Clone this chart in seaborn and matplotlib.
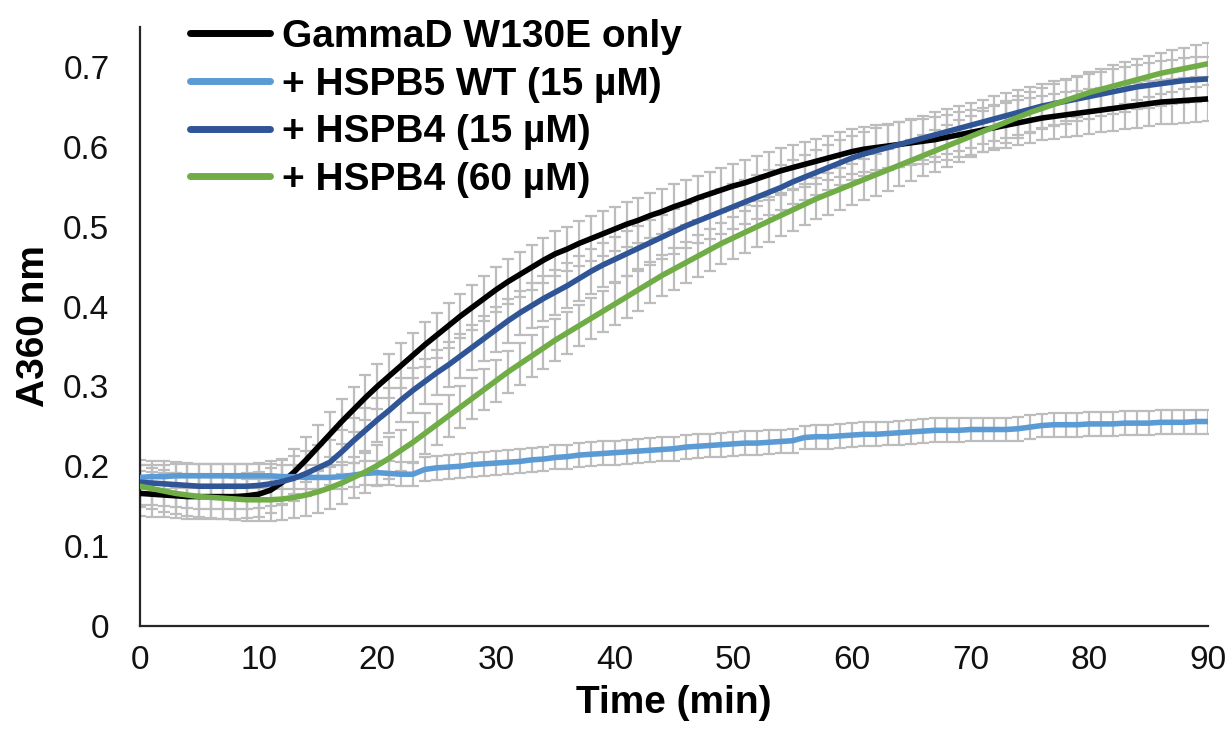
import numpy as np
import pandas as pd
import matplotlib
matplotlib.use("Agg")
import matplotlib.pyplot as plt
import seaborn as sns

time_min = list(range(0, 91))

gammad_only = [
    0.166, 0.165, 0.164, 0.163, 0.162, 0.162, 0.162, 0.162, 0.162, 0.163,
    0.165, 0.170, 0.180, 0.193, 0.208, 0.224, 0.240, 0.256, 0.271, 0.286,
    0.300, 0.313, 0.326, 0.339, 0.352, 0.364, 0.376, 0.388, 0.399, 0.410,
    0.421, 0.431, 0.440, 0.449, 0.458, 0.466, 0.472, 0.479, 0.485, 0.491,
    0.497, 0.503, 0.508, 0.514, 0.519, 0.525, 0.530, 0.536, 0.541, 0.546,
    0.551, 0.555, 0.560, 0.565, 0.570, 0.574, 0.578, 0.582, 0.586, 0.590,
    0.594, 0.597, 0.599, 0.601, 0.603, 0.605, 0.607, 0.609, 0.612, 0.615,
    0.618, 0.621, 0.624, 0.627, 0.630, 0.633, 0.636, 0.638, 0.640, 0.642,
    0.644, 0.646, 0.648, 0.650, 0.652, 0.654, 0.656, 0.657, 0.658, 0.659,
    0.660,
]

hspb5_wt_15 = [
    0.186, 0.187, 0.187, 0.188, 0.188, 0.188, 0.188, 0.188, 0.188, 0.188,
    0.188, 0.188, 0.187, 0.187, 0.186, 0.186, 0.186, 0.187, 0.189, 0.191,
    0.192, 0.191, 0.190, 0.190, 0.196, 0.198, 0.199, 0.200, 0.202, 0.203,
    0.204, 0.205, 0.206, 0.208, 0.209, 0.211, 0.212, 0.214, 0.215, 0.216,
    0.217, 0.218, 0.219, 0.220, 0.221, 0.222, 0.224, 0.225, 0.226, 0.227,
    0.228, 0.229, 0.229, 0.230, 0.231, 0.232, 0.236, 0.237, 0.237, 0.238,
    0.239, 0.240, 0.240, 0.241, 0.242, 0.243, 0.244, 0.245, 0.245, 0.245,
    0.246, 0.246, 0.246, 0.246, 0.247, 0.249, 0.251, 0.252, 0.252, 0.252,
    0.253, 0.253, 0.253, 0.254, 0.254, 0.254, 0.255, 0.255, 0.255, 0.256,
    0.256,
]

hspb4_15 = [
    0.180, 0.179, 0.178, 0.177, 0.176, 0.175, 0.175, 0.175, 0.175, 0.175,
    0.176, 0.178, 0.181, 0.185, 0.191, 0.198, 0.205, 0.218, 0.232, 0.245,
    0.258, 0.270, 0.283, 0.295, 0.306, 0.317, 0.327, 0.338, 0.349, 0.360,
    0.371, 0.382, 0.392, 0.401, 0.410, 0.418, 0.426, 0.435, 0.444, 0.452,
    0.459, 0.466, 0.473, 0.480, 0.487, 0.494, 0.501, 0.507, 0.513, 0.519,
    0.525, 0.531, 0.537, 0.543, 0.549, 0.556, 0.562, 0.568, 0.574, 0.580,
    0.586, 0.591, 0.595, 0.599, 0.603, 0.607, 0.611, 0.615, 0.619, 0.623,
    0.627, 0.631, 0.635, 0.639, 0.643, 0.647, 0.651, 0.654, 0.657, 0.660,
    0.663, 0.666, 0.669, 0.672, 0.675, 0.677, 0.679, 0.681, 0.683, 0.684,
    0.685,
]

hspb4_60 = [
    0.175, 0.172, 0.169, 0.166, 0.164, 0.162, 0.161, 0.160, 0.159, 0.158,
    0.158, 0.158, 0.159, 0.161, 0.164, 0.168, 0.173, 0.179, 0.186, 0.193,
    0.201, 0.210, 0.220, 0.230, 0.241, 0.252, 0.263, 0.274, 0.285, 0.296,
    0.307, 0.318, 0.328, 0.338, 0.348, 0.358, 0.367, 0.376, 0.385, 0.394,
    0.403, 0.412, 0.421, 0.430, 0.439, 0.447, 0.455, 0.463, 0.471, 0.479,
    0.486, 0.493, 0.500, 0.507, 0.514, 0.521, 0.528, 0.535, 0.541, 0.547,
    0.553, 0.559, 0.565, 0.571, 0.577, 0.583, 0.589, 0.595, 0.601, 0.607,
    0.613, 0.619, 0.625, 0.631, 0.637, 0.643, 0.648, 0.653, 0.658, 0.663,
    0.668, 0.672, 0.676, 0.680, 0.684, 0.688, 0.692, 0.695, 0.698, 0.701,
    0.704,
]

series_labels = ["GammaD W130E only", "+ HSPB5 WT (15 \u00b5M)",
                 "+ HSPB4 (15 \u00b5M)", "+ HSPB4 (60 \u00b5M)"]
series_errors = [0.028, 0.015, 0.028, 0.026]
series_colors = ["#000000", "#5B9BD5", "#2F5597", "#70AD47"]

x_ticks = [0, 10, 20, 30, 40, 50, 60, 70, 80, 90]
y_ticks = [0, 0.1, 0.2, 0.3, 0.4, 0.5, 0.6, 0.7]
y_tick_labels = ["0", "0.1", "0.2", "0.3", "0.4", "0.5", "0.6", "0.7"]

all_values = [gammad_only, hspb5_wt_15, hspb4_15, hspb4_60]
frames = []
for lab, vals in zip(series_labels, all_values):
    frames.append(pd.DataFrame({"Time": time_min, "A360": vals, "Sample": lab}))
df = pd.concat(frames, ignore_index=True)

sns.set_theme(style="white")
plt.rcParams["font.family"] = ["Liberation Sans", "DejaVu Sans"]
plt.rcParams["text.color"] = "#000000"
plt.rcParams["axes.labelcolor"] = "#000000"

fig = plt.figure(figsize=(12.28, 7.38), dpi=100)
ax = fig.add_axes([0.114, 0.1518, 0.8697, 0.8116])

# error bars (grey, behind lines)
for lab, vals, err in zip(series_labels, all_values, series_errors):
    ax.errorbar(time_min, vals, yerr=err, fmt="none", ecolor="#BDBDBD",
                elinewidth=1.6, capsize=4, capthick=1.6, zorder=1)

sns.lineplot(data=df, x="Time", y="A360", hue="Sample",
             hue_order=series_labels,
             palette=dict(zip(series_labels, series_colors)),
             linewidth=4.0, ax=ax, zorder=3, legend=True)

ax.set_xlim(0, 90)
ax.set_ylim(0, 0.75)
ax.set_xticks(x_ticks)
ax.set_xticklabels([str(v) for v in x_ticks])
ax.set_yticks(y_ticks)
ax.set_yticklabels(y_tick_labels)
ax.tick_params(axis="both", length=0, labelsize=24, colors="#111111")
ax.tick_params(axis="y", pad=22)
ax.tick_params(axis="x", pad=14)

for side in ["top", "right"]:
    ax.spines[side].set_visible(False)
for side in ["left", "bottom"]:
    ax.spines[side].set_color("#262626")
    ax.spines[side].set_linewidth(1.6)

ax.set_xlabel("Time (min)", fontsize=28, fontweight="bold", labelpad=6)
ax.set_ylabel("A360 nm", fontsize=28, fontweight="bold", labelpad=8)

handles, labels = ax.get_legend_handles_labels()
leg = ax.legend(handles, labels, loc="upper left",
                bbox_to_anchor=(0.148, 0.985), bbox_transform=fig.transFigure,
                frameon=False, prop={"weight": "bold", "size": 28},
                handlelength=2.06, handletextpad=0.33, labelspacing=0.30,
                borderaxespad=0.0, borderpad=0.2)
for t in leg.get_texts():
    t.set_color("#000000")
for h in leg.get_lines():
    h.set_linewidth(5.0)
    h.set_solid_capstyle("round")

fig.savefig("out.png", dpi=100)
